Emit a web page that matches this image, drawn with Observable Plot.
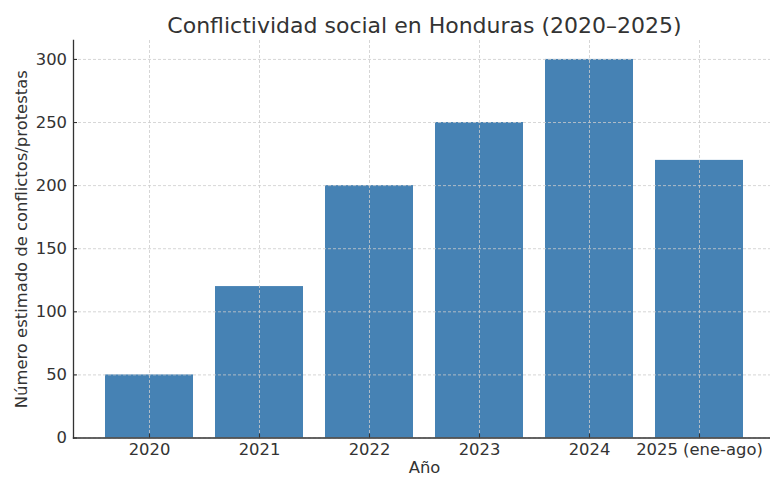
<!DOCTYPE html>
<html>
<head>
<meta charset="utf-8">
<script src="https://cdn.jsdelivr.net/npm/d3@7"></script>
<script src="https://cdn.jsdelivr.net/npm/@observablehq/plot@0.6"></script>
<style>
  html, body { margin: 0; padding: 0; background: #fff; overflow: hidden; }
</style>
</head>
<body>
<div id="chart"></div>
<script>
const years = ["2020", "2021", "2022", "2023", "2024", "2025 (ene-ago)"];
const counts = [50, 120, 200, 250, 300, 220];
const yTicks = [0, 50, 100, 150, 200, 250, 300];
const titleText = "Conflictividad social en Honduras (2020–2025)";
const xLabel = "Año";
const yLabel = "Número estimado de conflictos/protestas";

const data = years.map((y, i) => ({year: y, value: counts[i]}));
const ink = "#333333";
const gridStyle = {stroke: "#cccccc", strokeOpacity: 1, strokeWidth: 0.8, strokeDasharray: "3,2"};

const chart = Plot.plot({
  width: 770,
  height: 477,
  marginLeft: 73,
  marginRight: -5,
  marginTop: 40,
  marginBottom: 39.5,
  style: {fontFamily: "DejaVu Sans", fontSize: "16.4px", color: ink, background: "#fff", overflow: "visible"},
  x: {domain: years, paddingInner: 0.2, paddingOuter: 0.29, align: 0.5},
  y: {domain: [0, 315]},
  marks: [
    Plot.barY(data, {x: "year", y: "value", fill: "#4682b4"}),
    Plot.gridX(years, {...gridStyle}),
    Plot.gridY(yTicks, {...gridStyle}),
    Plot.axisX(years, {tickSize: 0, tickPadding: 5.5, fontSize: 16.4, fill: ink, label: xLabel, labelAnchor: "center", labelArrow: "none", labelOffset: 35}),
    Plot.axisX(years, {text: null, tickSize: 4, dy: -4, stroke: ink, strokeWidth: 1.1, label: null}),
    Plot.axisY(yTicks, {tickSize: 0, tickPadding: 6.5, fontSize: 16.4, fill: ink, label: yLabel, labelAnchor: "center", labelArrow: "none", labelOffset: 58}),
    Plot.axisY(yTicks, {text: null, tickSize: 4, dx: 4, stroke: ink, strokeWidth: 1.1, label: null}),
    Plot.frame({anchor: "left", stroke: ink, strokeWidth: 1.3}),
    Plot.frame({anchor: "bottom", stroke: ink, strokeWidth: 1.3}),
    Plot.text([titleText], {frameAnchor: "top", lineAnchor: "bottom", dy: -8, fontSize: 22, fill: ink})
  ]
});
document.getElementById("chart").appendChild(chart);
</script>
</body>
</html>
